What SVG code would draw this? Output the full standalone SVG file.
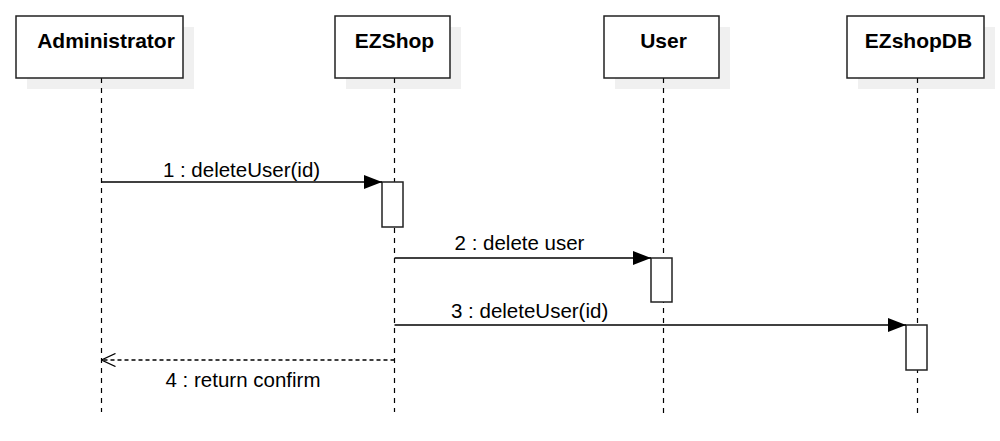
<svg xmlns="http://www.w3.org/2000/svg" width="1000" height="441" viewBox="0 0 1000 441">
<defs>
<style>
.shadow{fill:#f0f0f0;stroke:none}
.box{fill:#fff;stroke:#222;stroke-width:1.5}
.title{font-family:"Liberation Sans",Arial,sans-serif;font-weight:bold;font-size:21px;fill:#000;text-anchor:middle}
.life{stroke:#000;stroke-width:1.2;stroke-dasharray:5,5;fill:none}
.act{fill:#fff;stroke:#222;stroke-width:1.5}
.msg{stroke:#000;stroke-width:1.3;fill:none}
.ret{stroke:#000;stroke-width:1.3;fill:none;stroke-dasharray:4,3}
.lbl{font-family:"Liberation Sans",Arial,sans-serif;font-size:20.5px;fill:#000}
</style>
<marker id="filled" viewBox="0 0 18 14" refX="18" refY="7" markerWidth="18" markerHeight="14" markerUnits="userSpaceOnUse" orient="auto">
<path d="M0,0 L18,7 L0,14 Z" fill="#000"/>
</marker>
<marker id="open" viewBox="0 0 16 14" refX="15" refY="7" markerWidth="16" markerHeight="14" markerUnits="userSpaceOnUse" orient="auto">
<path d="M1,0.5 L15,7 L1,13.5" fill="none" stroke="#000" stroke-width="1.3"/>
</marker>
</defs>
<rect width="1000" height="441" fill="#fff"/>

<g id="administrator">
<rect class="shadow" x="27" y="27" width="167" height="62"/>
<line class="life" x1="101.5" y1="78" x2="101.5" y2="412"/>
<rect class="box" x="16" y="16" width="167" height="62"/>
<text class="title" x="106" y="48">Administrator</text>
</g>

<g id="ezshop">
<rect class="shadow" x="346" y="27" width="115" height="62"/>
<line class="life" x1="394.5" y1="78" x2="394.5" y2="412"/>
<rect class="box" x="335" y="16" width="115" height="62"/>
<text class="title" x="394.5" y="48">EZShop</text>
<rect class="act" x="382" y="182" width="21" height="45"/>
</g>

<g id="user">
<rect class="shadow" x="615" y="27" width="115" height="62"/>
<line class="life" x1="663.5" y1="78" x2="663.5" y2="418"/>
<rect class="box" x="604" y="16" width="115" height="62"/>
<text class="title" x="663.5" y="48">User</text>
<rect class="act" x="651" y="258" width="21" height="44"/>
</g>

<g id="ezshopdb">
<rect class="shadow" x="858" y="27" width="137" height="62"/>
<line class="life" x1="917.5" y1="78" x2="917.5" y2="418"/>
<rect class="box" x="847" y="16" width="137" height="62"/>
<text class="title" x="918.5" y="48">EZshopDB</text>
<rect class="act" x="906" y="325" width="21" height="45"/>
</g>

<g id="connectors">
<line class="msg" x1="101.5" y1="182" x2="382" y2="182" marker-end="url(#filled)"/>
<text class="lbl" x="241.5" y="177" text-anchor="middle">1 : deleteUser(id)</text>
<line class="msg" x1="394.5" y1="258" x2="651" y2="258" marker-end="url(#filled)"/>
<text class="lbl" x="519.5" y="250" text-anchor="middle">2 : delete user</text>
<line class="msg" x1="394.5" y1="325" x2="906" y2="325" marker-end="url(#filled)"/>
<text class="lbl" x="451" y="318">3 : deleteUser(id)</text>
<line class="ret" x1="394.5" y1="360" x2="101.5" y2="360" marker-end="url(#open)"/>
<text class="lbl" x="243" y="387" text-anchor="middle">4 : return confirm</text>
</g>
</svg>
